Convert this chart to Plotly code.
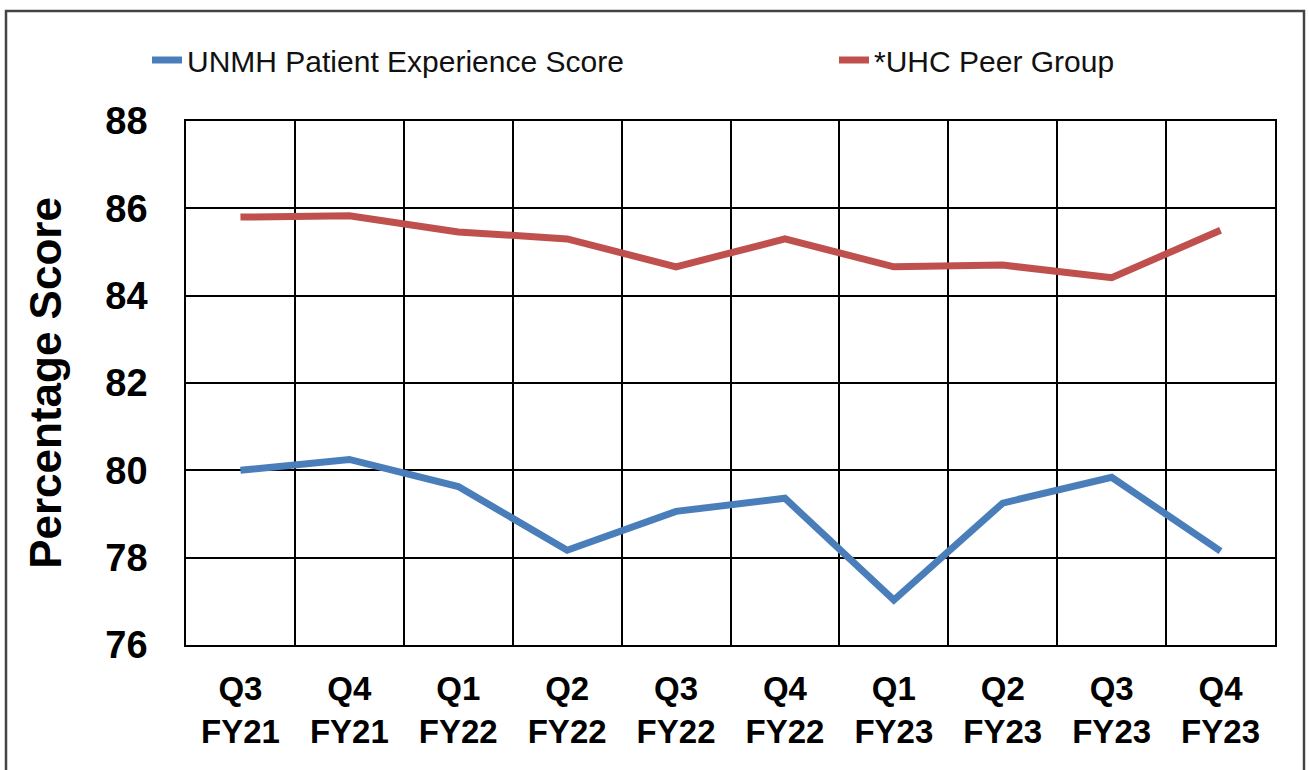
import plotly.graph_objects as go

categories = ["Q3<br>FY21", "Q4<br>FY21", "Q1<br>FY22", "Q2<br>FY22", "Q3<br>FY22",
              "Q4<br>FY22", "Q1<br>FY23", "Q2<br>FY23", "Q3<br>FY23", "Q4<br>FY23"]
unmh_scores = [80.0, 80.25, 79.63, 78.17, 79.06, 79.36, 77.03, 79.25, 79.84, 78.15]
uhc_scores = [85.8, 85.83, 85.46, 85.3, 84.66, 85.3, 84.66, 84.7, 84.41, 85.5]
y_ticks = [76, 78, 80, 82, 84, 86, 88]

xpos = list(range(len(categories)))
boundaries = [i - 0.5 for i in range(len(categories) + 1)]

FONT = "Liberation Sans, Arial, sans-serif"
PL, PR, PT, PB = 186, 1275, 121, 645
PW, PH = PR - PL, PB - PT

fig = go.Figure()
fig.add_trace(go.Scatter(x=xpos, y=unmh_scores, mode="lines",
                         name="UNMH Patient Experience Score",
                         line=dict(color="#4a7ebb", width=7), legend="legend"))
fig.add_trace(go.Scatter(x=xpos, y=uhc_scores, mode="lines",
                         name="*UHC Peer Group",
                         line=dict(color="#c0504d", width=7), legend="legend2"))

leg_common = dict(orientation="h", yref="container", y=1 - 60 / 770, yanchor="middle",
                  xanchor="left", font=dict(size=30, color="#111", family=FONT),
                  bgcolor="rgba(0,0,0,0)", borderwidth=0, itemclick=False)

fig.update_layout(
    width=1309, height=770,
    margin=dict(l=PL, r=1309 - PR, t=PT, b=770 - PB, autoexpand=False),
    paper_bgcolor="white", plot_bgcolor="white",
    font=dict(family=FONT, color="black"),
    showlegend=True,
    legend=dict(x=(147 - PL) / PW, **leg_common),
    legend2=dict(x=(834 - PL) / PW, **leg_common),
)

fig.update_xaxes(
    range=[-0.5, len(categories) - 0.5],
    tickvals=xpos, ticktext=categories, automargin=False,
    tickfont=dict(size=33, family=FONT, color="black", weight="bold"),
    showgrid=False, zeroline=False,
    showline=True, linecolor="black", linewidth=1.5, mirror=True,
    ticks="", ticklabelstandoff=14,
    minor=dict(tickvals=boundaries, showgrid=True, gridcolor="black", gridwidth=1.5, ticks=""),
)
fig.update_yaxes(
    range=[76, 88], tickvals=y_ticks, automargin=False,
    tickfont=dict(size=38, family=FONT, color="black", weight="bold"),
    showgrid=True, gridcolor="black", gridwidth=1.5, zeroline=False,
    showline=True, linecolor="black", linewidth=1.5, mirror=True,
    ticks="", ticklabelstandoff=29,
    title=dict(text="Percentage Score", standoff=30,
               font=dict(size=44, family=FONT, color="black", weight="bold")),
)

# outer chart border
fig.add_shape(type="rect", xref="paper", yref="paper",
              x0=(6 - PL) / PW, x1=(1304 - PL) / PW,
              y0=(PB - 790) / PH, y1=(PB - 11) / PH,
              line=dict(color="#444444", width=2.5), fillcolor="rgba(0,0,0,0)", layer="below")

fig.write_html("out.html", config={"displayModeBar": False},
               post_script="document.body.style.margin='0';")
